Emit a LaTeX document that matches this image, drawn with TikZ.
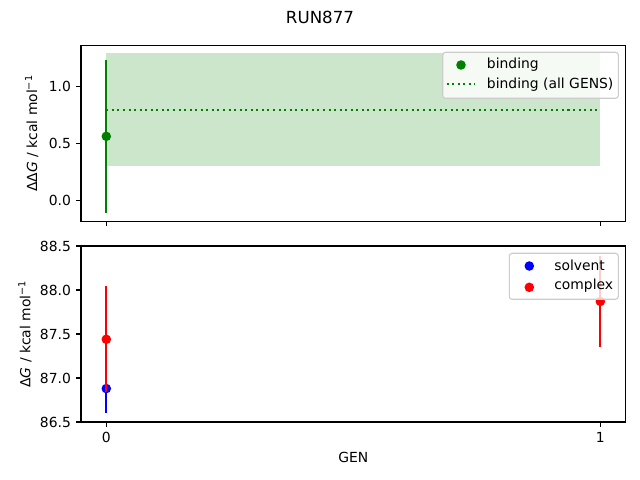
\documentclass[tikz,border=0pt]{standalone}
\usepackage{fontspec}
\setmainfont{DejaVu Sans}
\usetikzlibrary{positioning}
\definecolor{mplgreen}{HTML}{008000}
\definecolor{mplblue}{HTML}{0000FF}
\definecolor{mplred}{HTML}{FF0000}
\definecolor{legframe}{gray}{0.8}
\tikzstyle{spine} = [draw, line width=0.8pt]
\tikzstyle{tickmark} = [draw, line width=0.8pt]
\tikzset{
  ticklabel/.style ={font=\fontsize{10}{12}\selectfont, inner sep=0pt},
  axlabel/.style ={font=\fontsize{10}{12}\selectfont, inner sep=0pt},
  errbar/.style ={draw, line width=1.5pt},
  datadot/.style ={circle, inner sep=0pt, minimum size=6.9pt},
  legbox/.style ={draw=legframe, line width=0.8pt, fill=white, fill opacity=0.8, rounded corners=2pt},
  legtext/.style ={font=\fontsize{10}{12}\selectfont, inner sep=0pt, anchor=west}
}

\begin{document}
\begin{tikzpicture}[x=0.72pt, y=-0.72pt]
  \useasboundingbox (0,0) rectangle (640,480);
  \node[font=\fontsize{12}{14}\selectfont, inner sep=0pt] (title) at (320,17) {RUN877};

  % top panel: binding
  \begin{scope}[shift={(106.3,200.3)}, x=355.68pt, y=82.08pt]
    \fill[mplgreen, opacity=0.2] (0,0.298) rectangle (1,1.292);
    \draw[mplgreen, line width=1.5pt, dash pattern=on 1.5pt off 2.5pt] (0,0.795) -- (1,0.795);
    \node[datadot, fill=mplgreen] (bind0) at (0,0.561) {};
    \path[errbar, mplgreen] (0,-0.109) -- (0,1.231);
  \end{scope}
  \draw[spine] (81,45.3) rectangle (625.7,221.3);
  \foreach \v/\py in {1.0/86.3, 0.5/143.3, 0.0/200.3}{
    \draw[tickmark] (76.1,\py) -- (81,\py);
    \node[ticklabel, anchor=east] (ty\v) at (71.2,\py) {\v};
  }
  \foreach \px in {106.3, 600.3}
    \draw[tickmark] (\px,221.3) -- (\px,226.2);
  \node[axlabel, rotate=90] (ylabtop) at (31.7,133.3) {ΔΔ\textit{G} / kcal mol\textsuperscript{−1}};

  \draw[legbox] (442.7,52.3) rectangle (618.3,98.3);
  \node[datadot, fill=mplgreen] (legbind) at (461,65) {};
  \node[legtext] (legbindtxt) at (486.7,65) {binding};
  \coordinate (legall) at (446.7,84.3);
  \coordinate (legallend) at (475,84.3);
  \draw[mplgreen, line width=1.5pt, dash pattern=on 1.5pt off 2.5pt] (legall) -- (legallend);
  \node[legtext] (legalltxt) at (486.7,84.3) {binding (all GENS)};

  % bottom panel: solvent and complex
  \begin{scope}[shift={(106.3,422)}, x=355.68pt, y=63.36pt]
    \node[datadot, fill=mplblue] (solv0) at (0,0.38) {};
    \path[errbar, mplblue] (0,0.10) -- (0,0.66);
    \node[datadot, fill=mplred] (comp0) at (0,0.94) {};
    \path[errbar, mplred] (0,0.34) -- (0,1.54);
    \node[datadot, fill=mplred] (comp1) at (1,1.37) {};
    \path[errbar, mplred] (1,0.85) -- (1,1.89);
  \end{scope}
  \draw[spine] (81,246) rectangle (625.7,422);
  \foreach \v/\py in {88.5/246, 88.0/290, 87.5/334, 87.0/378, 86.5/422}{
    \draw[tickmark] (76.1,\py) -- (81,\py);
    \node[ticklabel, anchor=east] (tb\v) at (71.2,\py) {\v};
  }
  \foreach \px/\g in {106.3/0, 600.3/1}{
    \draw[tickmark] (\px,422) -- (\px,426.9);
    \node[ticklabel, anchor=north] (tx\g) at (\px,431.8) {\g};
  }
  \node[axlabel, rotate=90] (ylabbot) at (25,334) {Δ\textit{G} / kcal mol\textsuperscript{−1}};
  \node[axlabel] (xlab) at (353.4,457.5) {GEN};

  \draw[legbox] (509.3,253.3) rectangle (618.3,299.3);
  \node[datadot, fill=mplblue] (legsolv) at (529.3,266) {};
  \node[legtext] (legsolvtxt) at (554,265) {solvent};
  \node[datadot, fill=mplred] (legcomp) at (529.3,287.3) {};
  \node[legtext] (legcomptxt) at (554,286) {complex};
\end{tikzpicture}
\end{document}
